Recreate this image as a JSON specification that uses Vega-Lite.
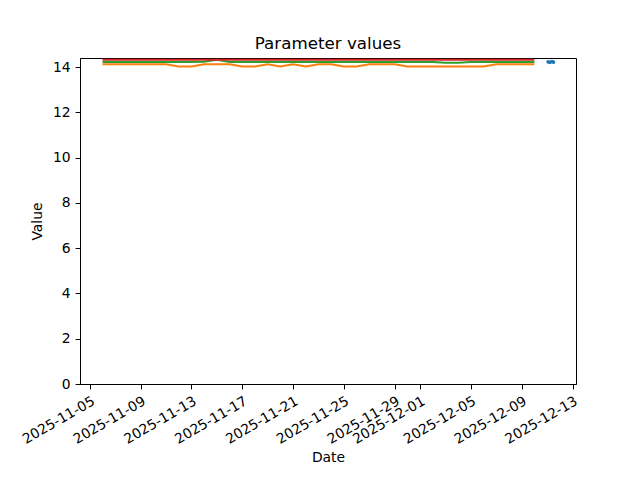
{
  "$schema": "https://vega.github.io/schema/vega-lite/v6.json",
  "width": 496,
  "height": 326,
  "autosize": {"type": "none"},
  "padding": {"left": 80, "top": 58, "right": 64, "bottom": 96},
  "background": "white",
  "config": {
    "font": "DejaVu Sans",
    "view": {"stroke": "black", "strokeWidth": 1},
    "axis": {"domainColor": "black", "tickColor": "black", "labelColor": "black", "titleColor": "black", "grid": false, "labelFont": "DejaVu Sans", "titleFont": "DejaVu Sans", "labelFontSize": 13.9, "titleFontSize": 13.9, "titleFontWeight": "normal", "tickSize": 4.9, "labelPadding": 4.9}
  },
  "title": {"text": "Parameter values", "fontSize": 16.7, "fontWeight": "normal", "font": "DejaVu Sans", "color": "black", "offset": 5},
  "data": {"values": [
    {"date": "2025-12-11T02:00:00", "series": "A", "value": 14.23},
    {"date": "2025-12-11T05:00:00", "series": "A", "value": 14.21},
    {"date": "2025-12-11T09:00:00", "series": "A", "value": 14.24},
    {"date": "2025-12-11T12:00:00", "series": "A", "value": 14.22},

    {"date": "2025-11-06T00:00:00", "series": "B", "value": 14.12},
    {"date": "2025-11-07T00:00:00", "series": "B", "value": 14.12},
    {"date": "2025-11-08T00:00:00", "series": "B", "value": 14.12},
    {"date": "2025-11-09T00:00:00", "series": "B", "value": 14.12},
    {"date": "2025-11-10T00:00:00", "series": "B", "value": 14.12},
    {"date": "2025-11-11T00:00:00", "series": "B", "value": 14.12},
    {"date": "2025-11-12T00:00:00", "series": "B", "value": 14.03},
    {"date": "2025-11-13T00:00:00", "series": "B", "value": 14.03},
    {"date": "2025-11-14T00:00:00", "series": "B", "value": 14.12},
    {"date": "2025-11-15T00:00:00", "series": "B", "value": 14.12},
    {"date": "2025-11-16T00:00:00", "series": "B", "value": 14.12},
    {"date": "2025-11-17T00:00:00", "series": "B", "value": 14.03},
    {"date": "2025-11-18T00:00:00", "series": "B", "value": 14.03},
    {"date": "2025-11-19T00:00:00", "series": "B", "value": 14.12},
    {"date": "2025-11-20T00:00:00", "series": "B", "value": 14.03},
    {"date": "2025-11-21T00:00:00", "series": "B", "value": 14.12},
    {"date": "2025-11-22T00:00:00", "series": "B", "value": 14.03},
    {"date": "2025-11-23T00:00:00", "series": "B", "value": 14.12},
    {"date": "2025-11-24T00:00:00", "series": "B", "value": 14.12},
    {"date": "2025-11-25T00:00:00", "series": "B", "value": 14.03},
    {"date": "2025-11-26T00:00:00", "series": "B", "value": 14.03},
    {"date": "2025-11-27T00:00:00", "series": "B", "value": 14.12},
    {"date": "2025-11-28T00:00:00", "series": "B", "value": 14.12},
    {"date": "2025-11-29T00:00:00", "series": "B", "value": 14.12},
    {"date": "2025-11-30T00:00:00", "series": "B", "value": 14.03},
    {"date": "2025-12-01T00:00:00", "series": "B", "value": 14.03},
    {"date": "2025-12-02T00:00:00", "series": "B", "value": 14.03},
    {"date": "2025-12-03T00:00:00", "series": "B", "value": 14.03},
    {"date": "2025-12-04T00:00:00", "series": "B", "value": 14.03},
    {"date": "2025-12-05T00:00:00", "series": "B", "value": 14.03},
    {"date": "2025-12-06T00:00:00", "series": "B", "value": 14.03},
    {"date": "2025-12-07T00:00:00", "series": "B", "value": 14.12},
    {"date": "2025-12-08T00:00:00", "series": "B", "value": 14.12},
    {"date": "2025-12-09T00:00:00", "series": "B", "value": 14.12},
    {"date": "2025-12-10T00:00:00", "series": "B", "value": 14.12},

    {"date": "2025-11-06T00:00:00", "series": "C", "value": 14.22},
    {"date": "2025-11-07T00:00:00", "series": "C", "value": 14.22},
    {"date": "2025-11-08T00:00:00", "series": "C", "value": 14.22},
    {"date": "2025-11-09T00:00:00", "series": "C", "value": 14.22},
    {"date": "2025-11-10T00:00:00", "series": "C", "value": 14.22},
    {"date": "2025-11-11T00:00:00", "series": "C", "value": 14.22},
    {"date": "2025-11-12T00:00:00", "series": "C", "value": 14.22},
    {"date": "2025-11-13T00:00:00", "series": "C", "value": 14.22},
    {"date": "2025-11-14T00:00:00", "series": "C", "value": 14.23},
    {"date": "2025-11-15T00:00:00", "series": "C", "value": 14.32},
    {"date": "2025-11-16T00:00:00", "series": "C", "value": 14.22},
    {"date": "2025-11-17T00:00:00", "series": "C", "value": 14.22},
    {"date": "2025-11-18T00:00:00", "series": "C", "value": 14.22},
    {"date": "2025-11-19T00:00:00", "series": "C", "value": 14.22},
    {"date": "2025-11-20T00:00:00", "series": "C", "value": 14.22},
    {"date": "2025-11-21T00:00:00", "series": "C", "value": 14.22},
    {"date": "2025-11-22T00:00:00", "series": "C", "value": 14.22},
    {"date": "2025-11-23T00:00:00", "series": "C", "value": 14.22},
    {"date": "2025-11-24T00:00:00", "series": "C", "value": 14.22},
    {"date": "2025-11-25T00:00:00", "series": "C", "value": 14.22},
    {"date": "2025-11-26T00:00:00", "series": "C", "value": 14.22},
    {"date": "2025-11-27T00:00:00", "series": "C", "value": 14.22},
    {"date": "2025-11-28T00:00:00", "series": "C", "value": 14.22},
    {"date": "2025-11-29T00:00:00", "series": "C", "value": 14.22},
    {"date": "2025-11-30T00:00:00", "series": "C", "value": 14.22},
    {"date": "2025-12-01T00:00:00", "series": "C", "value": 14.22},
    {"date": "2025-12-02T00:00:00", "series": "C", "value": 14.22},
    {"date": "2025-12-03T00:00:00", "series": "C", "value": 14.19},
    {"date": "2025-12-04T00:00:00", "series": "C", "value": 14.19},
    {"date": "2025-12-05T00:00:00", "series": "C", "value": 14.22},
    {"date": "2025-12-06T00:00:00", "series": "C", "value": 14.22},
    {"date": "2025-12-07T00:00:00", "series": "C", "value": 14.22},
    {"date": "2025-12-08T00:00:00", "series": "C", "value": 14.22},
    {"date": "2025-12-09T00:00:00", "series": "C", "value": 14.22},
    {"date": "2025-12-10T00:00:00", "series": "C", "value": 14.22},

    {"date": "2025-11-06T00:00:00", "series": "D", "value": 14.32},
    {"date": "2025-11-07T00:00:00", "series": "D", "value": 14.32},
    {"date": "2025-11-08T00:00:00", "series": "D", "value": 14.32},
    {"date": "2025-11-09T00:00:00", "series": "D", "value": 14.32},
    {"date": "2025-11-10T00:00:00", "series": "D", "value": 14.32},
    {"date": "2025-11-11T00:00:00", "series": "D", "value": 14.32},
    {"date": "2025-11-12T00:00:00", "series": "D", "value": 14.32},
    {"date": "2025-11-13T00:00:00", "series": "D", "value": 14.32},
    {"date": "2025-11-14T00:00:00", "series": "D", "value": 14.32},
    {"date": "2025-11-15T00:00:00", "series": "D", "value": 14.32},
    {"date": "2025-11-16T00:00:00", "series": "D", "value": 14.32},
    {"date": "2025-11-17T00:00:00", "series": "D", "value": 14.32},
    {"date": "2025-11-18T00:00:00", "series": "D", "value": 14.32},
    {"date": "2025-11-19T00:00:00", "series": "D", "value": 14.32},
    {"date": "2025-11-20T00:00:00", "series": "D", "value": 14.32},
    {"date": "2025-11-21T00:00:00", "series": "D", "value": 14.32},
    {"date": "2025-11-22T00:00:00", "series": "D", "value": 14.32},
    {"date": "2025-11-23T00:00:00", "series": "D", "value": 14.32},
    {"date": "2025-11-24T00:00:00", "series": "D", "value": 14.32},
    {"date": "2025-11-25T00:00:00", "series": "D", "value": 14.32},
    {"date": "2025-11-26T00:00:00", "series": "D", "value": 14.32},
    {"date": "2025-11-27T00:00:00", "series": "D", "value": 14.32},
    {"date": "2025-11-28T00:00:00", "series": "D", "value": 14.32},
    {"date": "2025-11-29T00:00:00", "series": "D", "value": 14.32},
    {"date": "2025-11-30T00:00:00", "series": "D", "value": 14.32},
    {"date": "2025-12-01T00:00:00", "series": "D", "value": 14.32},
    {"date": "2025-12-02T00:00:00", "series": "D", "value": 14.32},
    {"date": "2025-12-03T00:00:00", "series": "D", "value": 14.32},
    {"date": "2025-12-04T00:00:00", "series": "D", "value": 14.32},
    {"date": "2025-12-05T00:00:00", "series": "D", "value": 14.32},
    {"date": "2025-12-06T00:00:00", "series": "D", "value": 14.32},
    {"date": "2025-12-07T00:00:00", "series": "D", "value": 14.32},
    {"date": "2025-12-08T00:00:00", "series": "D", "value": 14.32},
    {"date": "2025-12-09T00:00:00", "series": "D", "value": 14.32},
    {"date": "2025-12-10T00:00:00", "series": "D", "value": 14.32}
  ]},
  "encoding": {
    "x": {
      "field": "date", "type": "temporal", "title": "Date",
      "scale": {"domain": [{"year": 2025, "month": 11, "date": 4, "hours": 5, "minutes": 24}, {"year": 2025, "month": 12, "date": 13, "hours": 6, "minutes": 36}]},
      "axis": {
        "values": [
          {"year": 2025, "month": 11, "date": 5},
          {"year": 2025, "month": 11, "date": 9},
          {"year": 2025, "month": 11, "date": 13},
          {"year": 2025, "month": 11, "date": 17},
          {"year": 2025, "month": 11, "date": 21},
          {"year": 2025, "month": 11, "date": 25},
          {"year": 2025, "month": 11, "date": 29},
          {"year": 2025, "month": 12, "date": 1},
          {"year": 2025, "month": 12, "date": 5},
          {"year": 2025, "month": 12, "date": 9},
          {"year": 2025, "month": 12, "date": 13}
        ],
        "format": "%Y-%m-%d", "labelAngle": -30, "labelAlign": "right", "labelBaseline": "top", "labelOverlap": false, "labelFlush": false, "titlePadding": 4
      }
    },
    "y": {
      "field": "value", "type": "quantitative", "title": "Value",
      "scale": {"domain": [0, 14.4], "nice": false, "zero": false},
      "axis": {"values": [0, 2, 4, 6, 8, 10, 12, 14], "titlePadding": 8}
    },
    "color": {
      "field": "series", "type": "nominal", "legend": null,
      "scale": {"domain": ["A", "B", "C", "D"], "range": ["#1f77b4", "#ff7f0e", "#2ca02c", "#d62728"]}
    }
  },
  "layer": [
    {"mark": {"type": "line", "strokeWidth": 2, "clip": true}},
    {"transform": [{"filter": "datum.series === 'A'"}], "mark": {"type": "point", "filled": true, "size": 14, "opacity": 1, "clip": true}}
  ]
}
